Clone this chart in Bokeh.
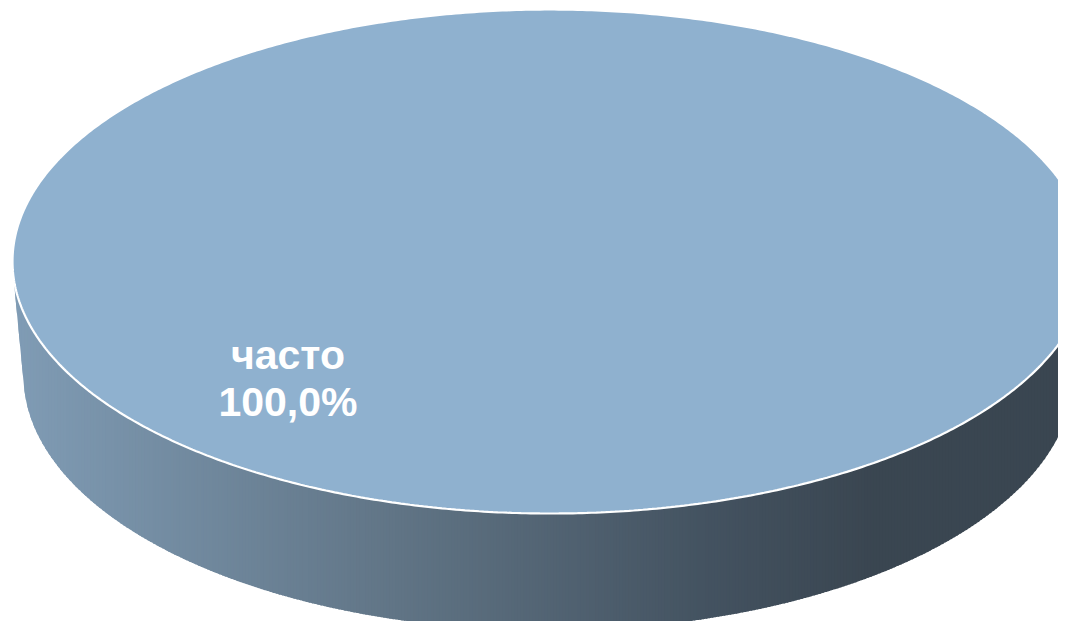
import numpy as np
from bokeh.plotting import figure
from bokeh.models import Range1d
from bokeh.embed import file_html
from bokeh.resources import INLINE
from bokeh.core.properties import value

# ---- data ----
categories = ["часто"]
values = [100.0]

# ---- layout constants (screen-like coordinates) ----
W, H = 1058, 621
CX, CY, RX, RY = 550.0, 261.0, 538.0, 252.0          # top face
BCX, BCY, BRX, BRY = 548.0, 375.0, 525.0, 255.0      # bottom face (perspective)
TOP_COLOR = "#8fb1cf"

p = figure(width=W, height=H, x_range=Range1d(0, W), y_range=Range1d(H, 0),
           output_backend="svg", toolbar_location=None, min_border=0)
p.axis.visible = False
p.grid.visible = False
p.outline_line_color = None
p.background_fill_color = "white"

# ---- side (convex hull of both faces, lower chain) with horizontal gradient ----
t = np.linspace(0, 2 * np.pi, 1440, endpoint=False)
pts = np.vstack([
    np.column_stack([CX + RX * np.cos(t), CY + RY * np.sin(t)]),
    np.column_stack([BCX + BRX * np.cos(t), BCY + BRY * np.sin(t)]),
])
pts = pts[np.lexsort((pts[:, 1], pts[:, 0]))]

def cross(o, a, b):
    return (a[0] - o[0]) * (b[1] - o[1]) - (a[1] - o[1]) * (b[0] - o[0])

chain_a, chain_b = [], []
for pt in pts:
    while len(chain_a) >= 2 and cross(chain_a[-2], chain_a[-1], pt) <= 0:
        chain_a.pop()
    chain_a.append(tuple(pt))
    while len(chain_b) >= 2 and cross(chain_b[-2], chain_b[-1], pt) >= 0:
        chain_b.pop()
    chain_b.append(tuple(pt))
chain_a, chain_b = np.array(chain_a), np.array(chain_b)
low = chain_a if chain_a[:, 1].mean() > chain_b[:, 1].mean() else chain_b

xmin, xmax = low[0, 0], low[-1, 0]
n = 360
xe = np.linspace(xmin, xmax, n + 1)

stop_x = [12, 400, 700, 870, 1100]
stop_c = np.array([[128, 156, 181], [96, 116, 133], [68, 83, 97], [58, 70, 81], [58, 70, 81]], float)

xs, ys, cols = [], [], []
for i in range(n):
    x0 = xe[i]
    x1 = min(xe[i + 1] + 1.5, xmax)
    xx = np.linspace(x0, x1, 4)
    yy = np.interp(xx, low[:, 0], low[:, 1])
    xs.append([x0, x1] + list(xx[::-1]))
    ys.append([CY - 2, CY - 2] + list(yy[::-1]))
    xm = 0.5 * (xe[i] + xe[i + 1])
    c = [int(round(np.interp(xm, stop_x, stop_c[:, k]))) for k in range(3)]
    cols.append("#%02x%02x%02x" % tuple(c))
p.patches(xs, ys, fill_color=cols, line_color=None)

# ---- top face: slices from values ----
vals = np.array(values, float)
ends = np.cumsum(vals) / vals.sum() * 2 * np.pi
starts = np.concatenate([[0.0], ends[:-1]])
sx, sy = [], []
for a0, a1 in zip(starts, ends):
    a = np.linspace(a0, a1, 720)
    if a1 - a0 >= 2 * np.pi - 1e-9:
        sx.append(list(CX + RX * np.cos(a)))
        sy.append(list(CY + RY * np.sin(a)))
    else:
        sx.append([CX] + list(CX + RX * np.cos(a)))
        sy.append([CY] + list(CY + RY * np.sin(a)))
p.patches(sx, sy, fill_color=TOP_COLOR, line_color="white", line_width=2.2)

# ---- labels ----
lab_x = CX - 0.488 * RX
lab_y = CY + 0.37 * RY
names = [c for c in categories]
pcts = [("%.1f" % (v / vals.sum() * 100)).replace(".", ",") + "%" for v in values]
p.text(x=[lab_x], y=[lab_y], text=names, text_font=value("Liberation Sans"),
       text_font_style="bold", text_font_size="41px", text_color="white",
       text_align="center", text_baseline="middle")
p.text(x=[lab_x], y=[lab_y + 47], text=pcts, text_font=value("Liberation Sans"),
       text_font_style="bold", text_font_size="41px", text_color="white",
       text_align="center", text_baseline="middle")

open("out.html", "w").write(file_html(p, INLINE))
